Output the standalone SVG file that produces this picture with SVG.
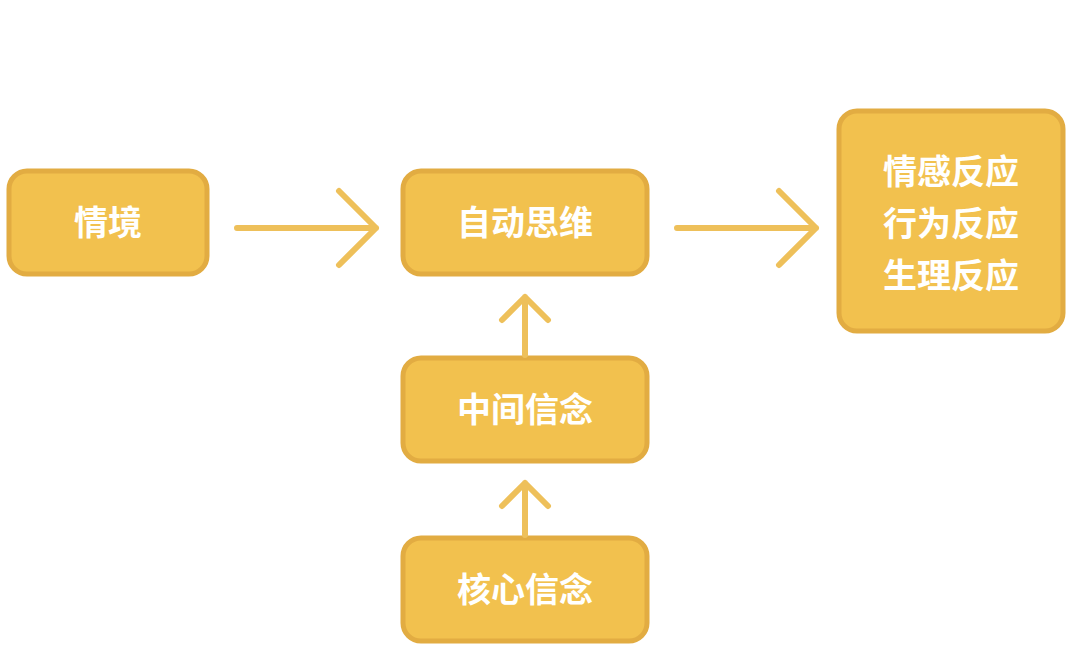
<svg xmlns="http://www.w3.org/2000/svg" width="1080" height="653" viewBox="0 0 1080 653">
<style>
.b{fill:#F2C14E;stroke:#E2AC42;stroke-width:5}
.t{fill:#fff;font-family:"Noto Sans CJK SC",sans-serif;font-weight:bold;font-size:34px;text-anchor:middle}
.a{fill:none;stroke:#EEC05A;stroke-width:6;stroke-linecap:round;stroke-linejoin:round}
</style>
<rect width="1080" height="653" fill="#fff"/>
<g id="n1"><rect class="b" x="9" y="171" width="198" height="103" rx="18"/><text class="t" x="108" y="235">情境</text></g>
<g id="n2"><rect class="b" x="403" y="171" width="244" height="103" rx="18"/><text class="t" x="525" y="235">自动思维</text></g>
<g id="n3"><rect class="b" x="403" y="358" width="244" height="103" rx="18"/><text class="t" x="525" y="422">中间信念</text></g>
<g id="n4"><rect class="b" x="403" y="538" width="244" height="103" rx="18"/><text class="t" x="525" y="602">核心信念</text></g>
<g id="n5"><rect class="b" x="839" y="111" width="224" height="220" rx="18"/><text class="t" x="951" y="184">情感反应</text><text class="t" x="951" y="236">行为反应</text><text class="t" x="951" y="288">生理反应</text></g>
<g id="edges">
<path class="a" d="M237 228H376M339 191L376 228L339 265"/>
<path class="a" d="M677 228H816M779 191L816 228L779 265"/>
<path class="a" d="M525 355V297M502 320L525 297L548 320"/>
<path class="a" d="M525 535V483M502 506L525 483L548 506"/>
</g>
</svg>
